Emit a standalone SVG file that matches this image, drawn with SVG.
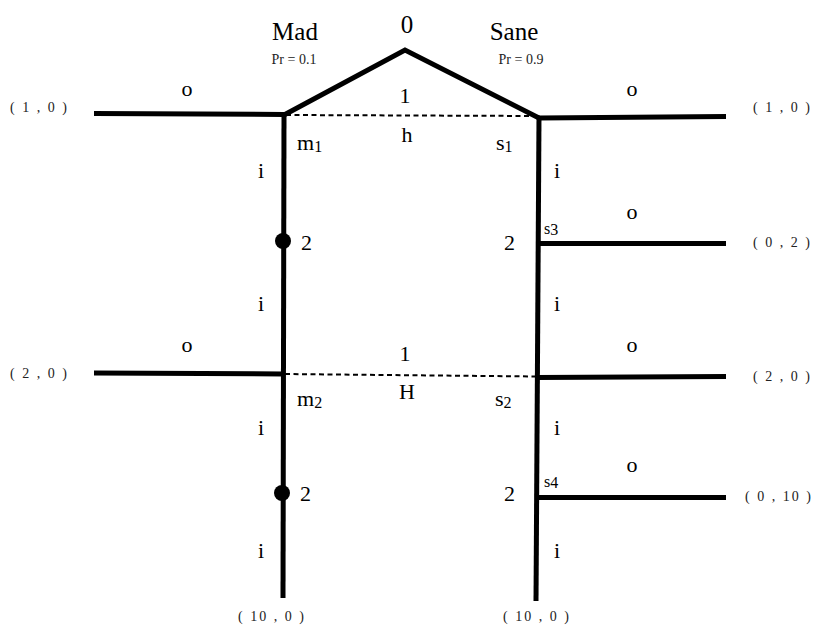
<svg xmlns="http://www.w3.org/2000/svg" width="816" height="632" viewBox="0 0 816 632" font-family="'Liberation Serif', 'DejaVu Serif', serif">
  <style>
    text { fill: #000; }
    .big { font-size: 25px; }
    .lab { font-size: 22px; }
    .sm { font-size: 14px; fill: #222; }
    .pay { font-size: 14px; letter-spacing: 2px; fill: #222; }
    .sub { font-size: 16px; }
    .edge { stroke: #000; stroke-width: 5; fill: none; stroke-linejoin: miter; }
    .info { stroke: #000; stroke-width: 2; stroke-dasharray: 5 3.5; fill: none; }
    .mid { text-anchor: middle; }
  </style>

  <!-- edges of the game tree -->
  <g id="connectors">
    <polyline class="edge" points="284,115 405,50 539,118"/>
    <line class="edge" x1="94" y1="113.5" x2="284" y2="114.5"/>
    <line class="edge" x1="539" y1="118" x2="726" y2="116.5"/>
    <line class="edge" x1="284" y1="114" x2="283" y2="598"/>
    <line class="edge" x1="539" y1="117" x2="536" y2="601"/>
    <line class="edge" x1="94" y1="373" x2="283" y2="374"/>
    <line class="edge" x1="537" y1="243.5" x2="726" y2="243.5"/>
    <line class="edge" x1="537" y1="377.5" x2="726" y2="376.5"/>
    <line class="edge" x1="536" y1="497.5" x2="726" y2="497.5"/>
    <line class="info" x1="286" y1="115" x2="537" y2="116"/>
    <line class="info" x1="285" y1="374" x2="536" y2="376.5"/>
  </g>

  <!-- root (chance) node -->
  <g id="root">
    <text class="big mid" x="407" y="33">0</text>
    <text class="big mid" x="295" y="40">Mad</text>
    <text class="sm mid" x="294" y="64">Pr = 0.1</text>
    <text class="big mid" x="514" y="40">Sane</text>
    <text class="sm mid" x="521" y="64">Pr = 0.9</text>
  </g>

  <!-- information set h -->
  <g id="infoset-h">
    <text class="lab mid" x="405" y="103">1</text>
    <text class="lab mid" x="407" y="142">h</text>
  </g>

  <!-- information set H -->
  <g id="infoset-H">
    <text class="lab mid" x="405" y="361">1</text>
    <text class="lab mid" x="407" y="399">H</text>
  </g>

  <g id="node-m1">
    <text class="lab" x="297" y="150">m<tspan class="sub" dy="2">1</tspan></text>
    <text class="lab mid" x="187" y="96">o</text>
    <text class="pay" x="10" y="112">( 1 , 0 )</text>
    <text class="lab mid" x="261" y="178">i</text>
  </g>

  <g id="node-m1-2">
    <circle cx="283" cy="241" r="8"/>
    <text class="lab" x="301" y="250">2</text>
    <text class="lab mid" x="261" y="311">i</text>
  </g>

  <g id="node-m2">
    <text class="lab" x="297" y="406">m<tspan class="sub" dy="2">2</tspan></text>
    <text class="lab mid" x="187" y="352">o</text>
    <text class="pay" x="10" y="378">( 2 , 0 )</text>
    <text class="lab mid" x="261" y="435">i</text>
  </g>

  <g id="node-m2-2">
    <circle cx="282" cy="493" r="8"/>
    <text class="lab" x="300" y="501">2</text>
    <text class="lab mid" x="261" y="558">i</text>
    <text class="pay mid" x="272" y="621">( 10 , 0 )</text>
  </g>

  <g id="node-s1">
    <text class="lab" x="496" y="150">s<tspan class="sub" dy="2">1</tspan></text>
    <text class="lab mid" x="632" y="96">o</text>
    <text class="pay" x="753" y="112">( 1 , 0 )</text>
    <text class="lab mid" x="557" y="178">i</text>
  </g>

  <g id="node-s3">
    <text class="lab" x="504" y="250">2</text>
    <text class="sub" x="544" y="234">s<tspan dy="1">3</tspan></text>
    <text class="lab mid" x="632" y="219">o</text>
    <text class="pay" x="753" y="247">( 0 , 2 )</text>
    <text class="lab mid" x="557" y="311">i</text>
  </g>

  <g id="node-s2">
    <text class="lab" x="495" y="406">s<tspan class="sub" dy="2">2</tspan></text>
    <text class="lab mid" x="632" y="352">o</text>
    <text class="pay" x="753" y="381">( 2 , 0 )</text>
    <text class="lab mid" x="557" y="435">i</text>
  </g>

  <g id="node-s4">
    <text class="lab" x="504" y="501">2</text>
    <text class="sub" x="544" y="487">s<tspan dy="1">4</tspan></text>
    <text class="lab mid" x="632" y="472">o</text>
    <text class="pay" x="745" y="501" letter-spacing="1.5">( 0 , 10 )</text>
    <text class="lab mid" x="557" y="558">i</text>
    <text class="pay mid" x="537" y="621">( 10 , 0 )</text>
  </g>
</svg>
